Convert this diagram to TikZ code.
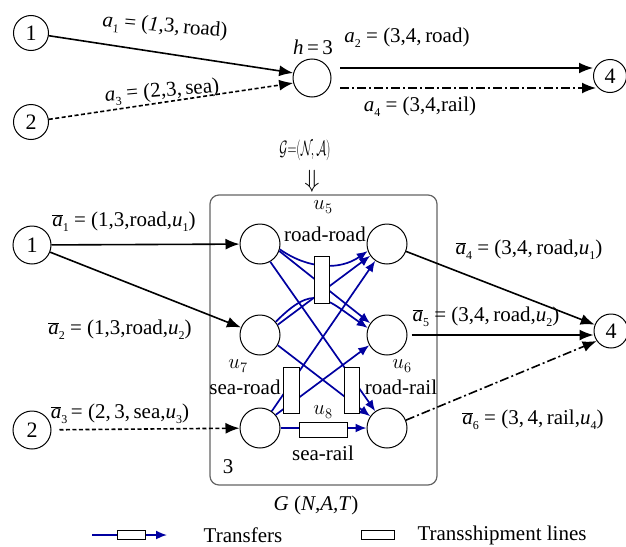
\documentclass[tikz,border=0pt]{standalone}
\usepackage{fontspec}
\setmainfont{Liberation Serif}
\usetikzlibrary{arrows.meta,calc}
\definecolor{tblue}{RGB}{0,0,160}
\definecolor{boxgray}{RGB}{100,100,100}
\newcommand\ssub[1]{\raisebox{-0.5ex}{\fontsize{12}{12}\selectfont #1}}
\newcommand\abar{$\overline{\mbox{\textit{a}}}$}
\begin{document}
\begin{tikzpicture}[x=1pt,y=-1pt,font=\fontsize{21}{24}\selectfont,
  outer/.style={circle,draw,line width=1pt,minimum size=35pt,inner sep=0pt,font=\fontsize{22}{24}\selectfont},
  inner/.style={circle,draw,line width=1pt,minimum size=40pt,inner sep=0pt},
  arr/.style={line width=1.6pt,-{Latex[length=14pt,width=11pt]}},
  tr/.style={draw=tblue,line width=1.7pt,-{Latex[length=11pt,width=9pt]}},
  tline/.style={draw,fill=white,line width=0.8pt,inner sep=0pt},
  dashdot/.style={dash pattern=on 9pt off 3pt on 2pt off 3pt},
  lbl/.style={inner sep=0pt}]
\useasboundingbox (0,0) rectangle (626,546);

% ---------- top graph ----------
\node[outer] (n1t) at (31,33) {1};
\node[outer] (n2t) at (31,122) {2};
\node[inner,minimum size=38pt] (h) at (312,78) {};
\node[outer,minimum size=33pt] (n4t) at (610,76) {4};
\coordinate (hs1) at (340,68);
\coordinate (hs2) at (340,88);

\draw[arr] (n1t) -- (h.165);
\draw[arr,dash pattern=on 4pt off 2.5pt] (n2t) -- (h.195);
\draw[arr] (hs1) -- (hs1 -| n4t.west);
\draw[arr,dashdot] (hs2) -- ($(hs2 -| n4t.west)+(3,0)$);

\node[lbl,rotate=-5] (la1) at (165,27) {\textit{a}\ssub{1} = (\textit{1},3,\,road)};
\node[lbl,rotate=5] (la3) at (162,92) {\textit{a}\ssub{3} = (2,3,\,sea)};
\node[lbl] (lh) at (313,47) {\textit{h}\,=\,3};
\node[lbl] (la2) at (407,38) {\textit{a}\ssub{2} = (3,4,\,road)};
\node[lbl] (la4) at (420,107) {\textit{a}\ssub{4} = (3,4,rail)};
\node[lbl,font=\fontsize{22}{24}\selectfont] (gset) at (305,150) {\scalebox{0.6}[1]{$\mathcal{G}{=}(\mathcal{N}\!,\mathcal{A})$}};
\node[lbl,font=\fontsize{26}{28}\selectfont] (darr) at (312,181) {$\Downarrow$};

% ---------- bottom graph ----------
\draw[boxgray,line width=1.2pt,rounded corners=9pt] (210,195) rectangle (437,485);

\node[outer,minimum size=38pt] (n1b) at (32,245) {1};
\node[outer,minimum size=38pt] (n2b) at (32,430) {2};
\node[outer,minimum size=34pt] (n4b) at (611,331) {4};

\node[inner] (L1) at (260,244) {};
\node[inner] (R1) at (387,244) {};
\node[inner] (L2) at (260,335) {};
\node[inner] (R2) at (387,335) {};
\node[inner] (L3) at (260,428) {};
\node[inner] (R3) at (387,428) {};

\draw[arr] (n1b) -- (L1);
\draw[arr] (n1b) -- (L2);
\draw[arr,dash pattern=on 4pt off 2.5pt,shorten <=8pt] (n2b) -- (L3);
\draw[arr] (R1) -- (n4b);
\draw[arr,shorten <=4pt] (R2.east) -- (R2.east -| n4b.west);
\draw[arr,dashdot] (R3) -- (n4b.215);

% transfers
\draw[tr] (L1.-15) to[out=-35,in=215] (R1.200);
\draw[tr] (L1.-20) -- (R2.145);
\draw[tr] (L1.-60) -- (R3.125);
\draw[tr] (L2.30) -- (R1.215);
\draw[tr] (L2.40) to[out=45,in=145,looseness=1.5] (R2.160);
\draw[tr] (L2.-30) -- (R3.145);
\draw[tr] (L3.55) -- (R1.235);
\draw[tr] (L3.40) -- (R2.210);
\draw[tr] (L3.east) -- (R3.west);

% transshipment lines
\node[tline,minimum width=15pt,minimum height=47pt] (u5r) at (322,280) {};
\node[tline,minimum width=16pt,minimum height=46pt] (u7r) at (291,390) {};
\node[tline,minimum width=15pt,minimum height=46pt] (u6r) at (352,390) {};
\node[tline,minimum width=48pt,minimum height=15pt] (u8r) at (323,430) {};

\node[lbl] (u5) at (323,207) {$u_5$};
\node[lbl] (rr) at (325,234) {road-road};
\node[lbl] (u7) at (238,366) {$u_7$};
\node[lbl] (sr) at (245,387) {sea-road};
\node[lbl] (u6) at (402,366) {$u_6$};
\node[lbl] (rl) at (401,387) {road-rail};
\node[lbl] (u8) at (323,412) {$u_8$};
\node[lbl] (sl) at (323,453) {sea-rail};
\node[lbl] (three) at (228,467) {3};
\node[lbl] (gnat) at (316,505) {\textit{G} (\textit{N,A,T})};

\node[lbl] (lb1) at (124,222) {\abar\ssub{1} = (1,3,road,\textit{u}\ssub{1})};
\node[lbl] (lb2) at (120,330) {\abar\ssub{2} = (1,3,road,\textit{u}\ssub{2})};
\node[lbl] (lb3) at (120,414) {\abar\ssub{3}\,= (2,\,3,\,sea,\textit{u}\ssub{3})};
\node[lbl] (lb4) at (529,250) {\abar\ssub{4} = (3,4,\,road,\textit{u}\ssub{1})};
\node[lbl] (lb5) at (486,317) {\abar\ssub{5} = (3,4,\,road,\textit{u}\ssub{2})};
\node[lbl] (lb6) at (533,420) {\abar\ssub{6} = (3,\,4,\,rail,\textit{u}\ssub{4})};

% legend
\coordinate (lgA) at (92,535);
\coordinate (lgB) at (167,535);
\draw[tr] (lgA) -- (lgB);
\node[tline,minimum width=28pt,minimum height=9pt] (lgr1) at (131,535) {};
\node[lbl] (lgt1) at (243,535) {Transfers};
\node[tline,minimum width=33pt,minimum height=9pt] (lgr2) at (378,535) {};
\node[lbl] (lgt2) at (502,535) {Transshipment lines};
\end{tikzpicture}
\end{document}
